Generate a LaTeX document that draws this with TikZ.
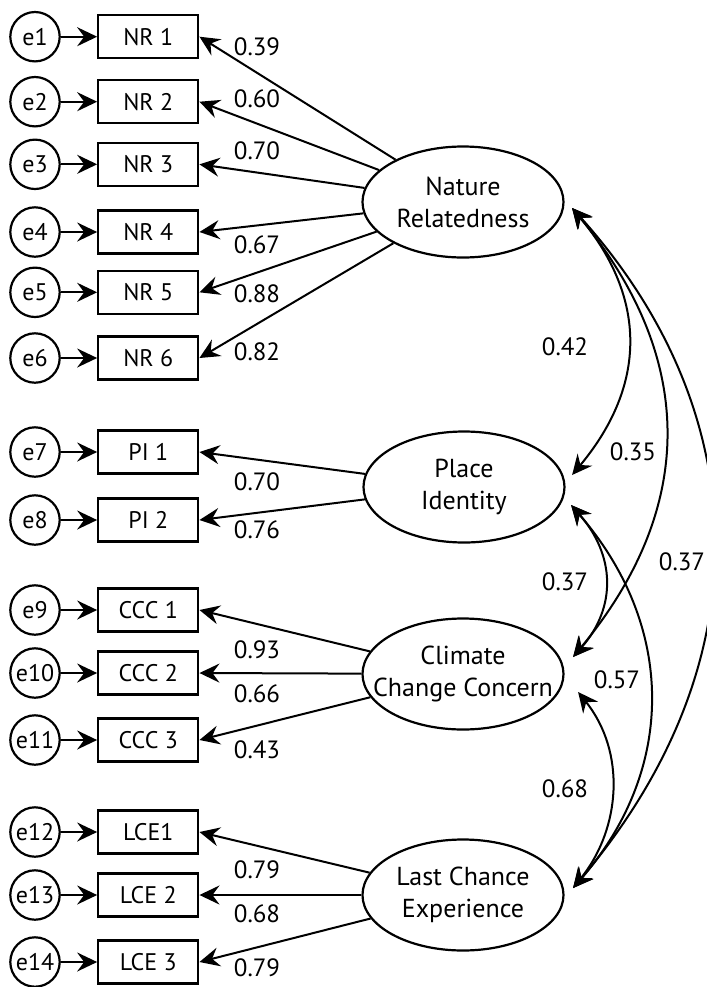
\documentclass[tikz,border=0pt]{standalone}
\usepackage{fontspec}
\setmainfont{PT Sans}
\usetikzlibrary{arrows.meta,shapes.geometric}

\begin{document}
\begin{tikzpicture}[
  x=0.5pt, y=-0.5pt,
  line width=1pt,
  >={Stealth[length=10pt,width=9.5pt,inset=3.5pt]},
  err/.style={circle, draw, line width=1.1pt, minimum size=24.7pt, inner sep=0pt,
              font=\fontsize{12}{14}\selectfont},
  obs/.style={rectangle, draw, line width=1.15pt, minimum width=50pt,
              minimum height=21.5pt, inner sep=0pt, font=\fontsize{12}{14}\selectfont},
  lat/.style={ellipse, draw, line width=1.1pt, inner sep=0pt,
              minimum width=100.5pt, minimum height=55.5pt},
  lattxt/.style={align=center, font=\fontsize{13}{16}\selectfont},
  coef/.style={inner sep=0pt, font=\fontsize{12.5}{14}\selectfont}
]
\useasboundingbox (0,0) rectangle (707,987);

% Fattori latenti
\node[lat, label={[lattxt]center:{Nature\\Relatedness}}]       (NR)  at (463,202) {};
\node[lat, label={[lattxt]center:{Place\\Identity}}]           (PI)  at (464,487) {};
\node[lat, label={[lattxt]center:{Climate\\Change Concern}}]   (CCC) at (463,674) {};
\node[lat, label={[lattxt]center:{Last Chance\\Experience}}]   (LCE) at (463,895) {};

% ====================== NATURE RELATEDNESS ======================
\node[err] (e1) at (35,36.7)  {e1};  \node[obs] (nr1) at (148.3,36.7)  {NR 1};
\node[err] (e2) at (35,101.7) {e2};  \node[obs] (nr2) at (148.3,101.7) {NR 2};
\node[err] (e3) at (35,164.3) {e3};  \node[obs] (nr3) at (148.3,164.3) {NR 3};
\node[err] (e4) at (35,232)   {e4};  \node[obs] (nr4) at (148.3,232)   {NR 4};
\node[err] (e5) at (35,292.3) {e5};  \node[obs] (nr5) at (148.3,292.3) {NR 5};
\node[err] (e6) at (35,358)   {e6};  \node[obs] (nr6) at (148.3,358)   {NR 6};
\draw[->] (e1) -- (nr1);  \draw[->] (NR) -- (nr1.east);
\draw[->] (e2) -- (nr2);  \draw[->] (NR) -- (nr2.east);
\draw[->] (e3) -- (nr3);  \draw[->] (NR) -- (nr3.east);
\draw[->] (e4) -- (nr4);  \draw[->] (NR) -- (nr4.east);
\draw[->] (e5) -- (nr5);  \draw[->] (NR) -- (nr5.east);
\draw[->] (e6) -- (nr6);  \draw[->] (NR) -- (nr6.east);
\node[coef] (c1) at (257,47)    {0.39};
\node[coef] (c2) at (257,99)    {0.60};
\node[coef] (c3) at (257,150.7) {0.70};
\node[coef] (c4) at (257,245)   {0.67};
\node[coef] (c5) at (257,293.3) {0.88};
\node[coef] (c6) at (257,351.7) {0.82};

% ====================== PLACE IDENTITY ======================
\node[err] (e7) at (35,452) {e7};  \node[obs] (pi1) at (148.3,452) {PI 1};
\node[err] (e8) at (35,520) {e8};  \node[obs] (pi2) at (148.3,520) {PI 2};
\draw[->] (e7) -- (pi1);  \draw[->] (PI) -- (pi1.east);
\draw[->] (e8) -- (pi2);  \draw[->] (PI) -- (pi2.east);
\node[coef] (c7) at (257,481.7) {0.70};
\node[coef] (c8) at (257,529.3) {0.76};

% ====================== CLIMATE CHANGE CONCERN ======================
\node[err] (e9)  at (35,610) {e9};   \node[obs] (ccc1) at (148.3,610) {CCC 1};
\node[err] (e10) at (35,673) {e10};  \node[obs] (ccc2) at (148.3,673) {CCC 2};
\node[err] (e11) at (35,740) {e11};  \node[obs] (ccc3) at (148.3,740) {CCC 3};
\draw[->] (e9)  -- (ccc1);  \draw[->] (CCC) -- (ccc1.east);
\draw[->] (e10) -- (ccc2);  \draw[->] (CCC) -- (ccc2.east);
\draw[->] (e11) -- (ccc3);  \draw[->] (CCC) -- (ccc3.east);
\node[coef] (c9)  at (257,650)   {0.93};
\node[coef] (c10) at (257,693.3) {0.66};
\node[coef] (c11) at (257,749.3) {0.43};

% ====================== LAST CHANCE EXPERIENCE ======================
\node[err] (e12) at (35,832) {e12};  \node[obs] (lce1) at (148.3,832) {LCE1};
\node[err] (e13) at (35,895) {e13};  \node[obs] (lce2) at (148.3,895) {LCE 2};
\node[err] (e14) at (35,962) {e14};  \node[obs] (lce3) at (148.3,962) {LCE 3};
\draw[->] (e12) -- (lce1);  \draw[->] (LCE) -- (lce1.east);
\draw[->] (e13) -- (lce2);  \draw[->] (LCE) -- (lce2.east);
\draw[->] (e14) -- (lce3);  \draw[->] (LCE) -- (lce3.east);
\node[coef] (c12) at (257,869.3) {0.79};
\node[coef] (c13) at (257,914)   {0.68};
\node[coef] (c14) at (257,967.3) {0.79};

% ====================== CORRELAZIONI ======================
\coordinate (nrR)  at ([shift={(7.5,6)}]NR.east);
\coordinate (piA)  at ([shift={(6.5,-12)}]PI.east);
\coordinate (piB)  at ([shift={(5.5,18)}]PI.east);
\coordinate (cccA) at ([shift={(8.5,-17)}]CCC.east);
\coordinate (cccB) at ([shift={(13.5,18)}]CCC.east);
\coordinate (lceR) at ([shift={(8.5,-7)}]LCE.east);

\draw[<->] (nrR) .. controls +(75,90) and +(75,-90) .. (piA);
\draw[<->] (nrR) .. controls +(124,150) and +(124,-150) .. (cccA);
\draw[<->] (nrR) .. controls +(180,200) and +(195,-230) .. (lceR);
\draw[<->] (piB) .. controls +(44,50) and +(44,-50) .. (cccA);
\draw[<->] (piB) .. controls +(104,120) and +(104,-120) .. (lceR);
\draw[<->] (cccB) .. controls +(48,60) and +(48,-60) .. (lceR);

\node[coef] (r1) at (565,346.7) {0.42};
\node[coef] (r2) at (633,451.7) {0.35};
\node[coef] (r3) at (682,561.7) {0.37};
\node[coef] (r4) at (565,581.7) {0.37};
\node[coef] (r5) at (617,680)   {0.57};
\node[coef] (r6) at (565,788.3) {0.68};

\end{tikzpicture}
\end{document}
